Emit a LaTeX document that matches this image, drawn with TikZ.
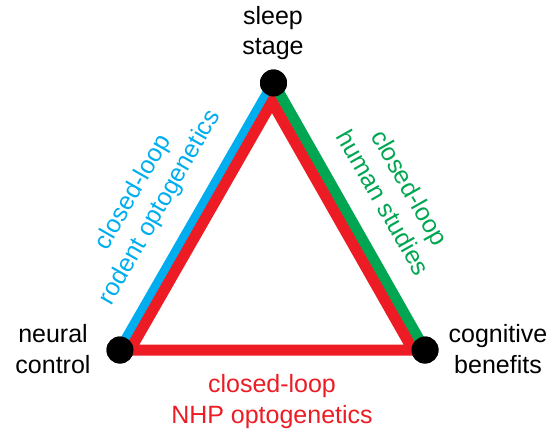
\documentclass[tikz,border=0pt]{standalone}
\usepackage{fontspec}
\setmainfont{Liberation Sans}
\usepackage{tikz}
\usetikzlibrary{positioning,calc}
\definecolor{loopblue}{RGB}{0,174,239}
\definecolor{loopgreen}{RGB}{0,166,81}
\definecolor{loopred}{RGB}{237,28,36}

\begin{document}
\begin{tikzpicture}[x=1pt, y=-1pt,
    every node/.style={font=\fontsize{25}{30.5}\selectfont, align=center, inner sep=0pt},
    dot/.style={circle, fill=black, minimum size=27pt},
    edge/.style={line width=11pt},
    corner/.style={anchor=base}]
    \useasboundingbox (0,0) rectangle (550,431);

    \node [dot] (sleep) at (273.5,83) {};
    \node [dot] (neural) at (120,350) {};
    \node [dot] (cognitive) at (425,350) {};

    \coordinate (rtop) at (272,102);
    \coordinate (rleft) at (130,350);
    \coordinate (rright) at (413,350);

    \draw [edge, loopblue] (sleep.center) -- (neural.center);
    \draw [edge, loopgreen] (sleep.center) -- (cognitive.center);
    \draw [edge, loopred, line join=miter] (rtop) -- (rleft) -- (rright) -- cycle;

    \node [dot] at (sleep) {};
    \node [dot] at (neural) {};
    \node [dot] at (cognitive) {};

    \node [corner] (sleeplbl) at (273,55) {sleep\\stage};
    \node [corner] (neurallbl) at (53,373) {neural\\control};
    \node [corner] (cognitivelbl) at (498,373) {cognitive\\benefits};
    \node [corner, text=loopred] (nhplbl) at (272,423) {closed-loop\\NHP optogenetics};
    \node [text=loopblue, rotate=60.3] (rodentlbl) at (147,200) {closed-loop\\rodent optogenetics};
    \node [text=loopgreen, rotate=-60.4] (humanlbl) at (397,195) {closed-loop\\human studies};
\end{tikzpicture}
\end{document}
